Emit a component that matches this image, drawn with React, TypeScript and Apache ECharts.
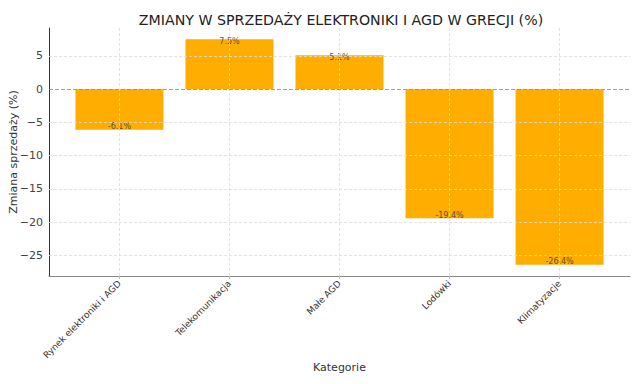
import React, { useEffect, useRef } from "react";
import * as echarts from "echarts";

const categories = ["Rynek elektroniki i AGD", "Telekomunikacja", "Małe AGD", "Lodówki", "Klimatyzacje"];
const values = [-6.1, 7.5, 5.1, -19.4, -26.4];
const yTicks = [-25, -20, -15, -10, -5, 0, 5];
const xTicks = [0, 1, 2, 3, 4];

const FONT = "DejaVu Sans";

export default function App() {
  const ref = useRef<HTMLDivElement>(null);
  useEffect(() => {
    if (!ref.current) return;
    const chart = echarts.init(ref.current, undefined, { renderer: "svg" });
    const gridColor = "#dddddd";
    chart.setOption({
      animation: false,
      textStyle: { fontFamily: FONT },
      title: {
        text: "ZMIANY W SPRZEDAŻY ELEKTRONIKI I AGD W GRECJI (%)",
        left: 336,
        textAlign: "center",
        top: 8,
        textStyle: { fontFamily: FONT, fontSize: 14.2, fontWeight: "normal", color: "#222" },
      },
      grid: { left: 49, right: 10, top: 28, bottom: 108, containLabel: false, outerBoundsMode: "none" },
      xAxis: {
        type: "value",
        min: -0.64,
        max: 4.64,
        name: "Kategorie",
        nameLocation: "middle",
        nameGap: 86,
        nameMoveOverlap: false,
        nameTextStyle: { fontFamily: FONT, fontSize: 11, color: "#333" },
        axisLine: { show: true, onZero: false, lineStyle: { color: "#888", width: 1 } },
        axisTick: { show: true, customValues: xTicks, length: 3, lineStyle: { color: "#bbb" } },
        axisLabel: {
          customValues: xTicks,
          rotate: 45,
          fontSize: 9,
          color: "#333",
          margin: 6,
          formatter: (v: number) => categories[Math.round(v)] ?? "",
        },
        splitLine: { show: false },
      },
      yAxis: {
        type: "value",
        min: -28.1,
        max: 9.2,
        name: "Zmiana sprzedaży (%)",
        nameLocation: "middle",
        nameGap: 30,
        nameMoveOverlap: false,
        nameTextStyle: { fontFamily: FONT, fontSize: 11, color: "#333" },
        axisLine: { show: true, onZero: false, lineStyle: { color: "#333", width: 1 } },
        axisTick: { show: false, customValues: yTicks },
        axisLabel: {
          customValues: yTicks,
          fontSize: 11,
          color: "#444",
          margin: 6,
          formatter: (v: number) => (v < 0 ? "\u2212" + Math.abs(v) : String(v)),
        },
        splitLine: { show: false },
      },
      series: [
        {
          type: "line",
          data: [],
          z: 1,
          silent: true,
          markLine: {
            silent: true,
            symbol: "none",
            label: { show: false },
            lineStyle: { color: gridColor, type: [3, 2], width: 0.8 },
            data: [
              ...xTicks.map((x) => ({ xAxis: x })),
              ...yTicks.filter((y) => y !== 0).map((y) => ({ yAxis: y })),
            ],
          },
        },
        {
          type: "bar",
          z: 2,
          barWidth: 88,
          itemStyle: { color: "#FFAE00" },
          data: values.map((v, i) => [i, v]),
        },
        {
          type: "line",
          data: [],
          z: 3,
          silent: true,
          markLine: {
            silent: true,
            symbol: "none",
            label: { show: false },
            lineStyle: { color: "#888", type: [4, 2], width: 0.8 },
            data: [{ yAxis: 0 }],
          },
        },
        {
          type: "scatter",
          z: 4,
          symbolSize: 0,
          silent: true,
          data: values.map((v, i) => ({
            value: [i, v],
            label: { offset: [0, v >= 0 ? 2 : -3] },
          })),
          label: {
            show: true,
            position: "inside",
            fontSize: 8,
            color: "#333",
            formatter: (p: any) => p.value[1] + "%",
          },
        },
      ],
    });
    return () => chart.dispose();
  }, []);
  return <div ref={ref} style={{ width: 640, height: 384, position: "absolute", left: 0, top: 0 }} />;
}
